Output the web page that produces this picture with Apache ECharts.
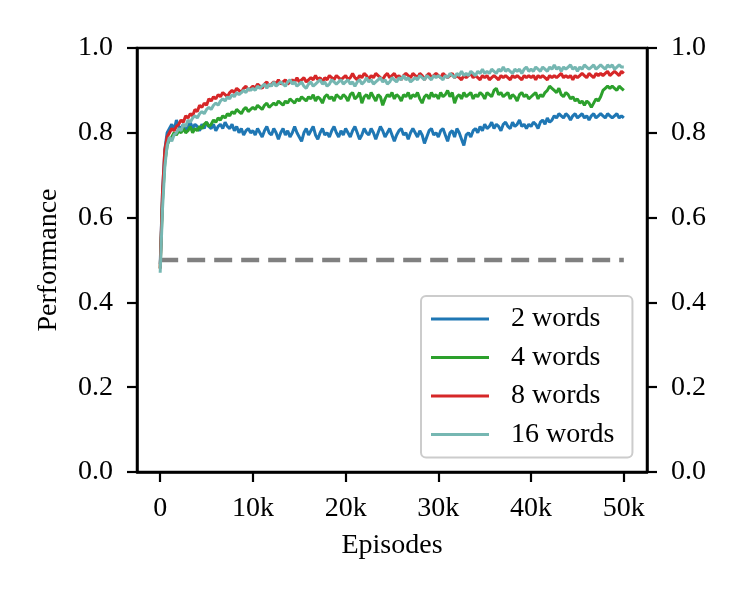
<!DOCTYPE html>
<html>
<head>
    <meta charset="utf-8">
    <title>Performance vs Episodes</title>
    <style>
        body { margin: 0; padding: 0; background: #fff; }
        #chart { width: 747px; height: 599px; }
    </style>
</head>
<body>
    <script src="https://cdn.jsdelivr.net/npm/echarts@6/dist/echarts.min.js"></script>
    <div id="chart"></div>
    <script>
        // one sample every 250 episodes, 0 .. 50k
        const step = 250;
        const xTicks = [0, 10000, 20000, 30000, 40000, 50000];
        const yTicks = [0, 0.2, 0.4, 0.6, 0.8, 1.0];
        const seriesNames = ['2 words', '4 words', '8 words', '16 words'];
        const baseline = 0.5;

        const words2 = [
            0.49, 0.66, 0.76, 0.80, 0.81, 0.82, 0.805, 0.83, 0.815, 0.81,
            0.82, 0.805, 0.815, 0.825, 0.81, 0.82, 0.815, 0.805, 0.82, 0.81,
            0.825, 0.815, 0.81, 0.82, 0.805, 0.815, 0.82, 0.81, 0.825, 0.815,
            0.81, 0.82, 0.805, 0.815, 0.80, 0.81, 0.795, 0.805, 0.81, 0.80,
            0.805, 0.795, 0.81, 0.80, 0.79, 0.805, 0.815, 0.80, 0.795, 0.81,
            0.80, 0.785, 0.80, 0.81, 0.795, 0.805, 0.79, 0.80, 0.815, 0.80,
            0.79, 0.78, 0.80, 0.81, 0.795, 0.805, 0.815, 0.795, 0.785, 0.80,
            0.81, 0.795, 0.80, 0.79, 0.805, 0.815, 0.80, 0.79, 0.805, 0.795,
            0.81, 0.80, 0.79, 0.805, 0.815, 0.80, 0.785, 0.795, 0.81, 0.80,
            0.795, 0.81, 0.80, 0.785, 0.80, 0.815, 0.805, 0.79, 0.80, 0.81,
            0.795, 0.78, 0.795, 0.805, 0.81, 0.795, 0.80, 0.785, 0.80, 0.81,
            0.80, 0.79, 0.805, 0.795, 0.775, 0.79, 0.805, 0.81, 0.795, 0.80,
            0.79, 0.805, 0.81, 0.795, 0.78, 0.80, 0.805, 0.79, 0.81, 0.80,
            0.785, 0.77, 0.795, 0.80, 0.79, 0.805, 0.81, 0.80, 0.815, 0.805,
            0.82, 0.81, 0.815, 0.825, 0.81, 0.82, 0.815, 0.805, 0.82, 0.825,
            0.815, 0.81, 0.825, 0.815, 0.82, 0.83, 0.815, 0.82, 0.81, 0.82,
            0.815, 0.825, 0.82, 0.81, 0.825, 0.83, 0.82, 0.835, 0.825, 0.83,
            0.84, 0.835, 0.845, 0.84, 0.835, 0.845, 0.84, 0.83, 0.84, 0.845,
            0.835, 0.84, 0.845, 0.835, 0.84, 0.83, 0.84, 0.845, 0.835, 0.84,
            0.845, 0.84, 0.835, 0.845, 0.84, 0.835, 0.84, 0.845, 0.835, 0.84,
            0.835
        ];
        const words4 = [
            0.48, 0.64, 0.73, 0.77, 0.785, 0.79, 0.80, 0.795, 0.805, 0.80,
            0.81, 0.80, 0.805, 0.815, 0.80, 0.81, 0.805, 0.815, 0.81, 0.82,
            0.825, 0.815, 0.82, 0.83, 0.825, 0.835, 0.83, 0.84, 0.835, 0.845,
            0.84, 0.85, 0.845, 0.855, 0.85, 0.845, 0.855, 0.86, 0.85, 0.855,
            0.86, 0.855, 0.865, 0.86, 0.855, 0.865, 0.87, 0.86, 0.865, 0.87,
            0.865, 0.875, 0.87, 0.865, 0.875, 0.87, 0.88, 0.875, 0.87, 0.88,
            0.875, 0.885, 0.88, 0.875, 0.885, 0.88, 0.89, 0.875, 0.885, 0.88,
            0.87, 0.885, 0.89, 0.88, 0.885, 0.875, 0.89, 0.885, 0.88, 0.89,
            0.885, 0.875, 0.89, 0.895, 0.88, 0.885, 0.895, 0.87, 0.885, 0.89,
            0.88, 0.895, 0.885, 0.875, 0.89, 0.885, 0.865, 0.88, 0.89, 0.885,
            0.895, 0.88, 0.89, 0.885, 0.875, 0.89, 0.885, 0.895, 0.88, 0.89,
            0.885, 0.895, 0.88, 0.87, 0.885, 0.89, 0.88, 0.895, 0.885, 0.89,
            0.88, 0.895, 0.885, 0.89, 0.90, 0.885, 0.895, 0.87, 0.885, 0.89,
            0.88, 0.895, 0.885, 0.89, 0.895, 0.88, 0.89, 0.885, 0.895, 0.89,
            0.88, 0.895, 0.89, 0.885, 0.90, 0.905, 0.89, 0.895, 0.885, 0.89,
            0.895, 0.88, 0.89, 0.885, 0.875, 0.89, 0.895, 0.885, 0.89, 0.88,
            0.885, 0.89, 0.895, 0.88, 0.89, 0.885, 0.895, 0.90, 0.91, 0.905,
            0.90, 0.895, 0.905, 0.89, 0.885, 0.895, 0.89, 0.88, 0.885, 0.875,
            0.88, 0.87, 0.875, 0.865, 0.875, 0.87, 0.86, 0.87, 0.88, 0.875,
            0.885, 0.90, 0.905, 0.91, 0.905, 0.91, 0.905, 0.90, 0.91, 0.905,
            0.90
        ];
        const words8 = [
            0.48, 0.66, 0.76, 0.79, 0.80, 0.81, 0.805, 0.815, 0.82, 0.83,
            0.825, 0.84, 0.835, 0.845, 0.84, 0.855, 0.85, 0.865, 0.86, 0.87,
            0.865, 0.88, 0.875, 0.885, 0.88, 0.89, 0.885, 0.895, 0.89, 0.885,
            0.895, 0.90, 0.895, 0.905, 0.90, 0.895, 0.905, 0.91, 0.90, 0.905,
            0.91, 0.905, 0.915, 0.91, 0.905, 0.915, 0.92, 0.91, 0.915, 0.92,
            0.915, 0.925, 0.915, 0.92, 0.925, 0.915, 0.92, 0.925, 0.92, 0.93,
            0.92, 0.925, 0.93, 0.92, 0.925, 0.93, 0.925, 0.935, 0.925, 0.93,
            0.92, 0.93, 0.925, 0.935, 0.93, 0.925, 0.935, 0.93, 0.925, 0.93,
            0.935, 0.925, 0.93, 0.94, 0.93, 0.925, 0.935, 0.93, 0.94, 0.935,
            0.925, 0.935, 0.93, 0.94, 0.935, 0.93, 0.925, 0.935, 0.94, 0.93,
            0.935, 0.94, 0.93, 0.935, 0.925, 0.935, 0.94, 0.935, 0.93, 0.94,
            0.935, 0.93, 0.94, 0.935, 0.925, 0.935, 0.94, 0.93, 0.935, 0.94,
            0.935, 0.93, 0.94, 0.935, 0.93, 0.935, 0.94, 0.93, 0.935, 0.93,
            0.925, 0.935, 0.93, 0.935, 0.94, 0.93, 0.935, 0.93, 0.925, 0.935,
            0.93, 0.935, 0.925, 0.93, 0.935, 0.93, 0.925, 0.935, 0.93, 0.935,
            0.93, 0.925, 0.935, 0.93, 0.935, 0.93, 0.925, 0.935, 0.93, 0.935,
            0.93, 0.935, 0.925, 0.935, 0.93, 0.935, 0.93, 0.925, 0.935, 0.93,
            0.935, 0.93, 0.935, 0.94, 0.93, 0.935, 0.93, 0.935, 0.925, 0.935,
            0.93, 0.935, 0.94, 0.935, 0.93, 0.94, 0.935, 0.93, 0.94, 0.935,
            0.94, 0.935, 0.94, 0.945, 0.935, 0.94, 0.945, 0.94, 0.935, 0.945,
            0.94
        ];
        const words16 = [
            0.47, 0.62, 0.72, 0.77, 0.79, 0.78, 0.795, 0.80, 0.81, 0.805,
            0.82, 0.815, 0.83, 0.825, 0.835, 0.84, 0.835, 0.845, 0.85, 0.845,
            0.855, 0.86, 0.855, 0.865, 0.87, 0.865, 0.875, 0.88, 0.875, 0.885,
            0.88, 0.89, 0.885, 0.895, 0.89, 0.895, 0.90, 0.895, 0.905, 0.90,
            0.905, 0.90, 0.91, 0.905, 0.91, 0.915, 0.905, 0.915, 0.91, 0.92,
            0.91, 0.915, 0.92, 0.915, 0.91, 0.92, 0.925, 0.915, 0.92, 0.91,
            0.915, 0.92, 0.91, 0.905, 0.915, 0.92, 0.91, 0.915, 0.92, 0.925,
            0.915, 0.92, 0.91, 0.915, 0.925, 0.92, 0.915, 0.92, 0.925, 0.915,
            0.92, 0.925, 0.915, 0.92, 0.91, 0.92, 0.925, 0.915, 0.92, 0.93,
            0.92, 0.925, 0.915, 0.92, 0.925, 0.93, 0.92, 0.925, 0.915, 0.92,
            0.93, 0.925, 0.92, 0.93, 0.925, 0.935, 0.925, 0.93, 0.92, 0.925,
            0.93, 0.925, 0.935, 0.93, 0.925, 0.935, 0.93, 0.925, 0.935, 0.93,
            0.935, 0.93, 0.925, 0.935, 0.93, 0.94, 0.935, 0.93, 0.94, 0.935,
            0.945, 0.935, 0.94, 0.935, 0.945, 0.94, 0.935, 0.945, 0.94, 0.95,
            0.94, 0.945, 0.94, 0.95, 0.945, 0.94, 0.95, 0.945, 0.955, 0.945,
            0.95, 0.945, 0.94, 0.95, 0.945, 0.95, 0.94, 0.95, 0.955, 0.945,
            0.95, 0.945, 0.955, 0.95, 0.945, 0.955, 0.95, 0.945, 0.955, 0.95,
            0.96, 0.95, 0.955, 0.945, 0.955, 0.95, 0.955, 0.96, 0.95, 0.955,
            0.945, 0.955, 0.95, 0.96, 0.955, 0.95, 0.955, 0.96, 0.95, 0.955,
            0.96, 0.955, 0.95, 0.96, 0.955, 0.96, 0.95, 0.955, 0.96, 0.955,
            0.955
        ];

        const colors = ['#1f77b4', '#2ca02c', '#d62728', '#76b7b2'];
        const allValues = [words2, words4, words8, words16];
        const font = 'Liberation Serif';
        const fontSize = 28;

        function pairs(vals) {
            return vals.map((v, i) => [i * step, v]);
        }
        function fmtEp(v) {
            return v === 0 ? '0' : (v / 1000) + 'k';
        }

        const yAxisBase = {
            type: 'value',
            min: 0,
            max: 1,
            interval: 0.2,
            splitLine: { show: false },
            axisLine: { show: true, onZero: false, lineStyle: { color: '#000', width: 2.5 } },
            axisTick: { show: true, length: 10, lineStyle: { color: '#000', width: 2.2 } },
            axisLabel: {
                margin: 24,
                fontFamily: font, fontSize: fontSize, color: '#000',
                formatter: v => v.toFixed(1)
            }
        };

        const chart = echarts.init(document.getElementById('chart'));
        const series = allValues.map((vals, k) => ({
            name: seriesNames[k],
            type: 'line',
            data: pairs(vals),
            showSymbol: false,
            symbol: 'none',
            lineStyle: { color: colors[k], width: 3 },
            itemStyle: { color: colors[k] },
            z: 3 + k
        }));
        series.push({
            name: 'baseline',
            type: 'line',
            data: [[0, baseline], [(words2.length - 1) * step, baseline]],
            symbol: 'none',
            lineStyle: { color: '#808080', width: 4.5, type: [18, 9] },
            z: 2
        });

        chart.setOption({
            animation: false,
            grid: {
                left: 137, right: 100, top: 48, bottom: 127,
                show: true, borderColor: '#000', borderWidth: 2.5,
                containLabel: false
            },
            legend: {
                data: seriesNames,
                orient: 'vertical',
                left: 421, top: 296,
                padding: [9, 18, 9, 10],
                backgroundColor: '#fff',
                borderColor: '#cccccc',
                borderWidth: 2,
                borderRadius: 5,
                itemWidth: 58,
                itemHeight: 3,
                itemGap: 10.5,
                icon: 'rect',
                textStyle: {
                    fontFamily: font, fontSize: fontSize, color: '#000',
                    lineHeight: 28, padding: [0, 0, 0, 17]
                }
            },
            xAxis: {
                type: 'value',
                min: -2500,
                max: 52500,
                name: 'Episodes',
                nameLocation: 'middle',
                nameGap: 60,
                nameTextStyle: { fontFamily: font, fontSize: fontSize, color: '#000' },
                splitLine: { show: false },
                axisLine: { show: true, onZero: false, lineStyle: { color: '#000', width: 2.5 } },
                axisTick: { show: true, length: 10, customValues: xTicks, lineStyle: { color: '#000', width: 2.2 } },
                axisLabel: {
                    customValues: xTicks,
                    margin: 23,
                    fontFamily: font, fontSize: fontSize, color: '#000',
                    formatter: v => fmtEp(v)
                }
            },
            yAxis: [
                Object.assign({}, yAxisBase, {
                    position: 'left',
                    name: 'Performance',
                    nameLocation: 'middle',
                    nameGap: 74,
                    nameTextStyle: { fontFamily: font, fontSize: fontSize, color: '#000' }
                }),
                Object.assign({}, yAxisBase, { position: 'right' })
            ],
            series: series
        });
    </script>
</body>
</html>
